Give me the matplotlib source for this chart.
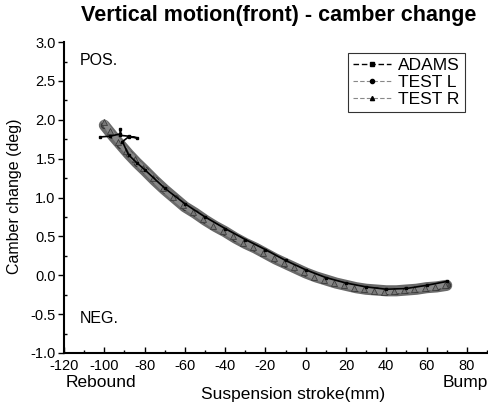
import numpy as np
import matplotlib
matplotlib.use("Agg")
import matplotlib.pyplot as plt

plt.rcParams['font.family'] = ['Liberation Sans', 'DejaVu Sans']
plt.rcParams['axes.unicode_minus'] = False

# ~ donnees
adams_x = [-102, -97, -92, -92, -92, -88, -84, -88, -91, -88, -84, -80, -70, -60, -50,
           -40, -30, -20, -10, 0, 10, 20, 30, 40, 50, 60, 70]
adams_y = [1.78, 1.79, 1.82, 1.88, 1.8, 1.79, 1.77, 1.78, 1.72, 1.55, 1.45, 1.36, 1.12,
           0.92, 0.75, 0.6, 0.46, 0.33, 0.19, 0.07, -0.03, -0.1, -0.15, -0.18, -0.17, -0.13, -0.08]

testl_x = [-100, -96, -92, -88, -84, -80, -75, -70, -65, -60, -55, -50, -45, -40, -35, -30,
           -25, -20, -15, -10, -5, 0, 5, 10, 15, 20, 25, 30, 35, 40, 45, 50, 55, 60, 65, 70]
testl_y = [1.93, 1.8, 1.68, 1.56, 1.45, 1.35, 1.22, 1.1, 0.99, 0.88, 0.8, 0.71, 0.63, 0.56,
           0.48, 0.41, 0.35, 0.28, 0.21, 0.15, 0.09, 0.03, -0.02, -0.06, -0.1, -0.13, -0.16,
           -0.18, -0.19, -0.2, -0.2, -0.19, -0.18, -0.16, -0.15, -0.13]

testr_x = [-100, -97, -93, -89, -85, -81, -76, -71, -66, -61, -56, -51, -46, -41, -36, -31,
           -26, -21, -16, -11, -6, -1, 4, 9, 14, 19, 24, 29, 34, 39, 44, 49, 54, 59, 64, 69]
testr_y = [1.97, 1.85, 1.72, 1.6, 1.49, 1.38, 1.25, 1.12, 1.01, 0.9, 0.82, 0.73, 0.64, 0.57,
           0.5, 0.42, 0.36, 0.29, 0.22, 0.16, 0.1, 0.04, -0.02, -0.06, -0.1, -0.13, -0.16,
           -0.18, -0.2, -0.21, -0.2, -0.19, -0.18, -0.17, -0.15, -0.12]

fig = plt.figure(figsize=(4.89, 4.09), dpi=100)
ax = fig.add_axes([0.131, 0.137, 0.869, 0.76])

ax.plot(testl_x, testl_y, color='#6a6a6a', lw=8, solid_capstyle='round', zorder=1)
ax.plot(testl_x, testl_y, ls='none', marker='o', ms=4.5, mfc='#4a4a4a', mec='#2a2a2a', mew=0.5, zorder=2)
ax.plot(testr_x, testr_y, color='#888888', lw=4, solid_capstyle='round', zorder=2)
ax.plot(testr_x, testr_y, ls='none', marker='^', ms=4, mfc='#777777', mec='#333333', mew=0.5, zorder=2)
ax.plot(adams_x, adams_y, color='black', lw=1.2, marker='s', ms=2, zorder=3)

# ~ entrees de legende
ax.plot([], [], color='black', lw=1, ls=(0, (4, 2)), marker='s', ms=3, label='ADAMS')
ax.plot([], [], color='#888888', lw=0.8, ls=(0, (4, 2)), marker='o', ms=3, mfc='black', mec='black', label='TEST L')
ax.plot([], [], color='#888888', lw=0.8, ls=(0, (4, 2)), marker='^', ms=3, mfc='black', mec='black', label='TEST R')
h, l = ax.get_legend_handles_labels()
leg = ax.legend(h[-3:], l[-3:], loc='upper left', bbox_to_anchor=(0.668, 0.965),
                fontsize=12.5, frameon=True, fancybox=False, edgecolor='black',
                handlelength=2.2, handletextpad=0.4, borderpad=0.3, labelspacing=0.1,
                borderaxespad=0)
leg.get_frame().set_linewidth(0.8)

ax.set_xlim(-120, 91)
ax.set_ylim(-1.0, 3.0)
ax.set_xticks(np.arange(-120, 81, 20))
ax.set_xticks(np.arange(-120, 91, 10), minor=True)
ax.set_yticks(np.arange(-1.0, 3.01, 0.5))
ax.set_yticks(np.arange(-1.0, 3.01, 0.25), minor=True)
ax.set_yticklabels([f'{v:.1f}' for v in np.arange(-1.0, 3.01, 0.5)])
ax.spines['top'].set_visible(False)
ax.spines['right'].set_visible(False)
ax.spines['left'].set_linewidth(1.5)
ax.spines['bottom'].set_linewidth(1.5)
ax.tick_params(axis='x', which='both', direction='in', labelsize=10.5, pad=4)
ax.tick_params(axis='x', which='major', length=4, width=1)
ax.tick_params(axis='x', which='minor', length=2.5, width=1)
ax.tick_params(axis='y', which='major', direction='out', length=4, width=1, labelsize=10.5, pad=2)
ax.tick_params(axis='y', which='minor', direction='in', length=2.5, width=1)

ax.text(-112, 2.7, 'POS.', fontsize=11.5)
ax.text(-112, -0.62, 'NEG.', fontsize=11.5)

fig.text(0.57, 0.962, 'Vertical motion(front) - camber change', ha='center', va='center',
         fontsize=15.5, fontweight='bold')
fig.text(0.03, 0.52, 'Camber change (deg)', rotation=90, ha='center', va='center', fontsize=11.5)
fig.text(0.6, 0.035, 'Suspension stroke(mm)', ha='center', va='center', fontsize=12.5)
fig.text(0.135, 0.065, 'Rebound', ha='left', va='center', fontsize=12.5)
fig.text(0.998, 0.065, 'Bump', ha='right', va='center', fontsize=12.5)

fig.savefig('out.png', dpi=100)
